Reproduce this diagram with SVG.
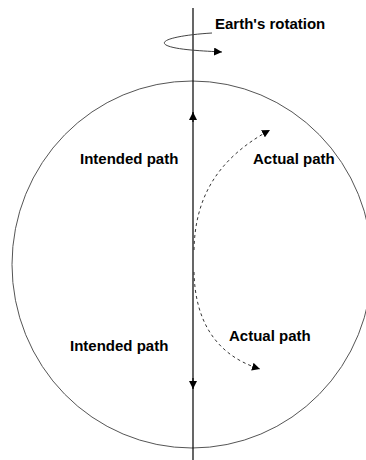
<svg xmlns="http://www.w3.org/2000/svg" width="366" height="460" viewBox="0 0 366 460">
<style>
.lbl{font-family:"Liberation Sans",Arial,sans-serif;font-weight:bold;font-size:15px;fill:#000}
.dash{fill:none;stroke:#333;stroke-width:1;stroke-dasharray:3,3}
</style>
<defs>
<marker id="ah" viewBox="0 0 10 10" refX="10" refY="5" markerWidth="8" markerHeight="8" markerUnits="userSpaceOnUse" orient="auto">
<path d="M0,0 L10,5 L0,10 z" fill="#000"/>
</marker>
</defs>
<rect width="366" height="460" fill="#fff"/>
<g id="earth">
<ellipse cx="192" cy="264.5" rx="180" ry="183.5" fill="none" stroke="#555" stroke-width="1"/>
</g>
<g id="connectors">
<line x1="193" y1="8" x2="193" y2="460" stroke="#000" stroke-width="1.2"/>
<line x1="193" y1="122" x2="193" y2="112" stroke="#000" stroke-width="1.2" marker-end="url(#ah)"/>
<line x1="193" y1="378" x2="193" y2="389" stroke="#000" stroke-width="1.2" marker-end="url(#ah)"/>
<path class="dash" d="M194,250 C195,200 215,160 270,130" marker-end="url(#ah)"/>
<path class="dash" d="M194,272 C195,320 215,355 260,369" marker-end="url(#ah)"/>
<path d="M212,33 C180,35 158,40 166,45 C175,50 205,51 222,52" fill="none" stroke="#444" stroke-width="1" marker-end="url(#ah)"/>
</g>
<g id="labels">
<text class="lbl" x="215" y="29">Earth's rotation</text>
<text class="lbl" x="80" y="164">Intended path</text>
<text class="lbl" x="253" y="164">Actual path</text>
<text class="lbl" x="70" y="351">Intended path</text>
<text class="lbl" x="229" y="341">Actual path</text>
</g>
</svg>
